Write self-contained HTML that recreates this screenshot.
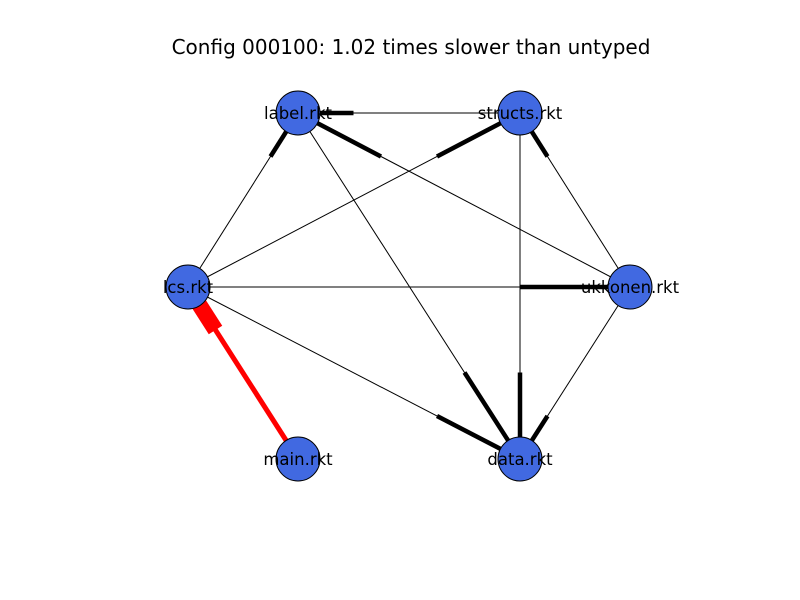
<!DOCTYPE html>
<html><head><meta charset="utf-8"><style>
body{margin:0;background:#fff}
svg{display:block;font-family:"DejaVu Sans","Liberation Sans",sans-serif}
</style></head><body>
<svg id="chart" width="800" height="600">
<rect width="800" height="600" fill="#fff"/>
<text x="411" y="54" text-anchor="middle" font-size="20">Config 000100: 1.02 times slower than untyped</text>
<g id="edges"></g><g id="nodes"></g>
</svg>
<script>
const nodeNames=["label.rkt","structs.rkt","lcs.rkt","ukkonen.rkt","main.rkt","data.rkt"];
const nodeX=[298,520,188,630,298,520];
const nodeY=[113,113,287,287,459,459];
const edgeFrom=[1,3,2,0,2,1,3,2,3,2,4];
const edgeTo=[0,0,0,5,1,5,1,3,5,5,2];
const edgeRed=[0,0,0,0,0,0,0,0,0,0,1];
const NS="http://www.w3.org/2000/svg";
const eg=document.getElementById('edges'),ng=document.getElementById('nodes');
function ln(x1,y1,x2,y2,c,w){const l=document.createElementNS(NS,'line');
l.setAttribute('x1',x1);l.setAttribute('y1',y1);l.setAttribute('x2',x2);l.setAttribute('y2',y2);
l.setAttribute('stroke',c);l.setAttribute('stroke-width',w);eg.appendChild(l);return l;}
for(let i=0;i<edgeFrom.length;i++){
 const a=edgeFrom[i],b=edgeTo[i];
 const x1=nodeX[a],y1=nodeY[a],x2=nodeX[b],y2=nodeY[b];
 const red=edgeRed[i];const c=red?'#ff0000':'#000';
 const l=ln(x1,y1,x2,y2,c,red?5:1);
 
 
 const h=ln(x2,y2,x2+(x1-x2)/4,y2+(y1-y2)/4,c,red?16:4.5);
 
 
}
for(let i=0;i<nodeNames.length;i++){
 const g=document.createElementNS(NS,'g');
 
 
 const c=document.createElementNS(NS,'circle');
 c.setAttribute('cx',nodeX[i]);c.setAttribute('cy',nodeY[i]);c.setAttribute('r',22);
 c.setAttribute('fill','#4169e1');c.setAttribute('stroke','#000');c.setAttribute('stroke-width',1);
 const t=document.createElementNS(NS,'text');
 t.setAttribute('x',nodeX[i]);t.setAttribute('y',nodeY[i]+6);t.setAttribute('text-anchor','middle');
 t.setAttribute('font-size','16.5');t.textContent=nodeNames[i];
 g.appendChild(c);g.appendChild(t);ng.appendChild(g);
}
</script>
</body></html>
